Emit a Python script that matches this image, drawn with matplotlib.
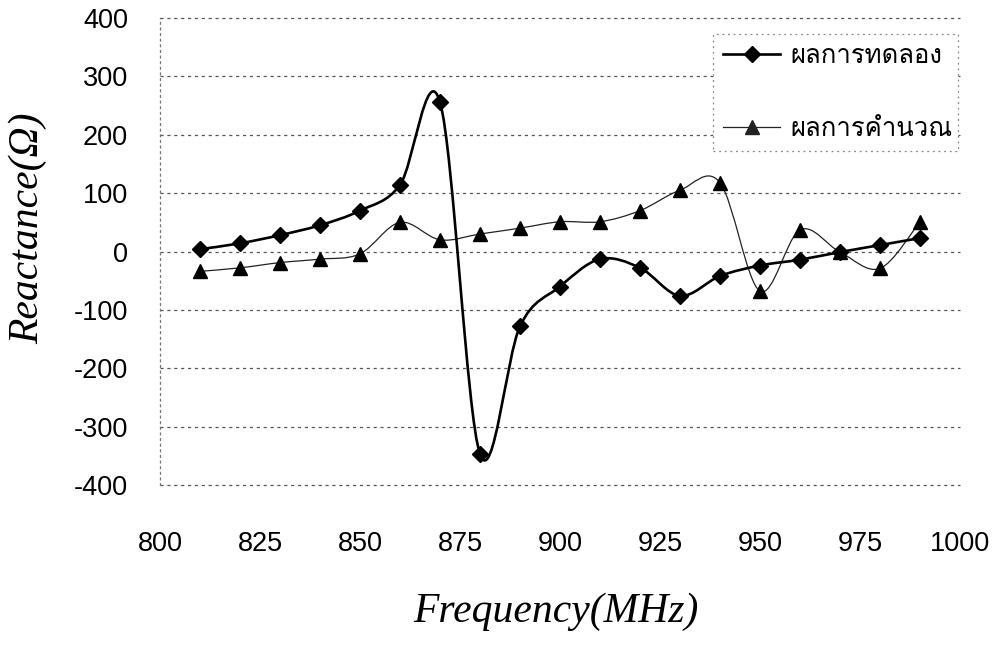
import numpy as np
import matplotlib
matplotlib.use("Agg")
import matplotlib.pyplot as plt
from matplotlib.path import Path
from matplotlib.patches import PathPatch
from matplotlib.lines import Line2D
from matplotlib import font_manager
from matplotlib.ft2font import FT2Font

plt.rcParams["axes.unicode_minus"] = False

# ---- data -------------------------------------------------------------
freq_mhz = [810, 820, 830, 840, 850, 860, 870, 880, 890, 900,
            910, 920, 930, 940, 950, 960, 970, 980, 990]
measured = [4, 14, 28, 45, 70, 114, 256, -347, -128, -60,
            -13, -28, -76, -42, -24, -14, -1, 11, 23]
calculated = [-34, -28, -19, -13, -4, 50, 20, 30, 40, 51,
              51, 70, 105, 118, -68, 37, -1, -29, 51]
series_labels = ["ผลการทดลอง", "ผลการคำนวณ"]
x_ticks = [800, 825, 850, 875, 900, 925, 950, 975, 1000]
y_ticks = [-400, -300, -200, -100, 0, 100, 200, 300, 400]
x_title = "Frequency(MHz)"
y_title = "Reactance(Ω)"


def font_with_glyphs(text, fallback="DejaVu Sans"):
    """Return the first installed family that covers every char of text."""
    for entry in font_manager.fontManager.ttflist:
        try:
            ft = FT2Font(entry.fname)
            if all(ft.get_char_index(ord(c)) for c in text if not c.isspace()):
                return entry.name
        except Exception:
            continue
    return fallback


thai_family = font_with_glyphs("".join(series_labels))


def smooth_path(xs, ys):
    """Cubic Bezier path through the points (spreadsheet-style smoothing)."""
    P = np.column_stack([xs, ys]).astype(float)
    E = np.vstack([P[0], P, P[-1]])
    verts = [P[0]]
    codes = [Path.MOVETO]
    for i in range(len(P) - 1):
        p0, p1, p2, p3 = E[i], E[i + 1], E[i + 2], E[i + 3]
        c1 = p1 + (p2 - p0) / 6.0
        c2 = p2 - (p3 - p1) / 6.0
        verts += [c1, c2, p2]
        codes += [Path.CURVE4] * 3
    return Path(np.array(verts), codes)


W, H, DPI = 993, 652, 100
fig = plt.figure(figsize=(W / DPI, H / DPI), dpi=DPI)
fig.patch.set_facecolor("white")

left, right, top, bottom = 160, 960, 18, 485
ax = fig.add_axes([left / W, 1 - bottom / H, (right - left) / W, (bottom - top) / H])
ax.set_xlim(800, 1000)
ax.set_ylim(-400, 400)

# grid
for yv in y_ticks:
    ax.axhline(yv, color="#555555", lw=0.9, ls=(0, (2.5, 3)), zorder=1,
               clip_on=False)

for side in ("top", "right", "bottom"):
    ax.spines[side].set_visible(False)
ax.spines["left"].set_color("#777777")
ax.spines["left"].set_linestyle((0, (1.5, 3)))
ax.spines["left"].set_linewidth(0.9)

# smoothed curves
ax.add_patch(PathPatch(smooth_path(freq_mhz, calculated), fill=False,
                       edgecolor="#222222", lw=0.9, zorder=3))
ax.add_patch(PathPatch(smooth_path(freq_mhz, measured), fill=False,
                       edgecolor="black", lw=1.9, zorder=4))

# markers
ax.plot(freq_mhz, calculated, ls="none", marker="^", ms=9.5,
        color="black", zorder=5)
ax.plot(freq_mhz, measured, ls="none", marker="D", ms=8.5,
        color="black", zorder=6)

# ticks
ax.set_xticks(x_ticks)
ax.set_yticks(y_ticks)
ax.tick_params(axis="both", length=0, labelsize=19.5, colors="black")
ax.tick_params(axis="x", pad=33)
ax.tick_params(axis="y", pad=23)
for lab in ax.get_xticklabels() + ax.get_yticklabels():
    lab.set_fontfamily("Liberation Sans")

# axis titles
fig.text(556 / W, 1 - 612 / H, x_title, family="Liberation Serif",
         style="italic", fontsize=30, ha="center", va="center")
fig.text(28 / W, 1 - 228 / H, y_title, family="Liberation Serif",
         style="italic", fontsize=30, ha="center", va="center", rotation=90)

# legend
handles = [
    Line2D([], [], color="black", lw=1.9, marker="D", ms=8.5),
    Line2D([], [], color="#222222", lw=0.9, marker="^", ms=9.5),
]
leg = ax.legend(handles, series_labels,
                bbox_to_anchor=(713 / W, 1 - 170 / H, 245 / W, 155 / H),
                bbox_transform=fig.transFigure, loc="center", mode="expand",
                borderaxespad=0, fancybox=False, framealpha=1,
                handlelength=2.2, handletextpad=0.4, labelspacing=1.9,
                prop={"family": [thai_family, "DejaVu Sans"], "size": 18.5})
frame = leg.get_frame()
frame.set_edgecolor("#888888")
frame.set_linestyle((0, (1.5, 3)))
frame.set_linewidth(0.9)

fig.savefig("out.png", dpi=DPI, facecolor="white")
